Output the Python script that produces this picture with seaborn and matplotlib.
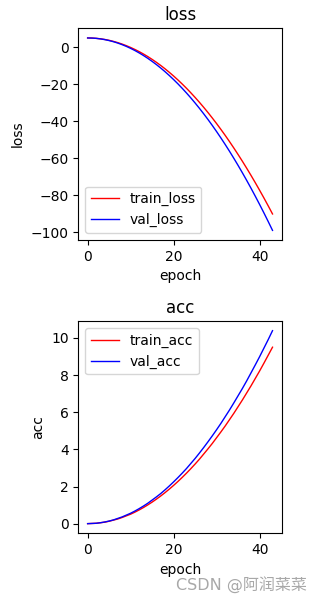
import matplotlib
matplotlib.use("Agg")
import matplotlib.pyplot as plt
import seaborn as sns
import pandas as pd

epochs = list(range(44))

train_loss = [5.00, 4.95, 4.79, 4.54, 4.18, 3.72, 3.15, 2.48, 1.71, 0.84,
              -0.14, -1.22, -2.40, -3.69, -5.07, -6.57, -8.16, -9.85, -11.65, -13.56,
              -15.56, -17.67, -19.88, -22.19, -24.61, -27.13, -29.75, -32.47, -35.30, -38.23,
              -41.26, -44.40, -47.63, -50.97, -54.42, -57.97, -61.61, -65.37, -69.22, -73.18,
              -77.24, -81.40, -85.67, -90.04]
val_loss = [5.00, 4.94, 4.78, 4.49, 4.10, 3.59, 2.98, 2.25, 1.40, 0.45,
            -0.62, -1.80, -3.09, -4.50, -6.02, -7.65, -9.39, -11.24, -13.21, -15.29,
            -17.48, -19.78, -22.20, -24.73, -27.37, -30.13, -32.99, -35.97, -39.06, -42.26,
            -45.58, -49.01, -52.55, -56.20, -59.97, -63.85, -67.84, -71.94, -76.15, -80.48,
            -84.92, -89.47, -94.14, -98.91]
train_acc = [0.00, 0.01, 0.02, 0.05, 0.08, 0.13, 0.19, 0.25, 0.33, 0.42,
             0.51, 0.62, 0.74, 0.87, 1.01, 1.16, 1.32, 1.49, 1.67, 1.86,
             2.06, 2.27, 2.49, 2.72, 2.96, 3.21, 3.47, 3.75, 4.03, 4.32,
             4.63, 4.94, 5.26, 5.60, 5.94, 6.30, 6.66, 7.04, 7.42, 7.82,
             8.22, 8.64, 9.07, 9.50]
val_acc = [0.00, 0.01, 0.02, 0.05, 0.09, 0.14, 0.20, 0.28, 0.36, 0.46,
           0.56, 0.68, 0.81, 0.95, 1.10, 1.27, 1.44, 1.62, 1.82, 2.03,
           2.25, 2.48, 2.72, 2.97, 3.24, 3.51, 3.80, 4.10, 4.41, 4.73,
           5.06, 5.40, 5.76, 6.12, 6.50, 6.89, 7.28, 7.69, 8.12, 8.55,
           8.99, 9.45, 9.91, 10.39]

df = pd.DataFrame({"epoch": epochs, "train_loss": train_loss, "val_loss": val_loss,
                   "train_acc": train_acc, "val_acc": val_acc})

plt.rcParams["font.family"] = ["DejaVu Sans", "Noto Sans CJK SC"]

fig = plt.figure(figsize=(3.28, 6.03), dpi=100)
ax1 = fig.add_axes([0.239, 0.602, 0.620, 0.351])
ax2 = fig.add_axes([0.239, 0.1156, 0.620, 0.352])

sns.lineplot(data=df, x="epoch", y="train_loss", ax=ax1, color="red", linewidth=1, label="train_loss")
sns.lineplot(data=df, x="epoch", y="val_loss", ax=ax1, color="blue", linewidth=1, label="val_loss")
ax1.set_title("loss")
ax1.set_xlabel("epoch")
ax1.set_ylabel("loss")
ax1.legend(loc="lower left")

sns.lineplot(data=df, x="epoch", y="train_acc", ax=ax2, color="red", linewidth=1, label="train_acc")
sns.lineplot(data=df, x="epoch", y="val_acc", ax=ax2, color="blue", linewidth=1, label="val_acc")
ax2.set_title("acc")
ax2.set_xlabel("epoch")
ax2.set_ylabel("acc")
ax2.legend(loc="upper left")

fig.text(0.937, 0.030, "CSDN @阿润菜菜", ha="right", va="center", fontsize=11.5,
         color="#a8a8a8", family=["DejaVu Sans", "Noto Sans CJK SC"])

fig.savefig("out.png", dpi=100)
